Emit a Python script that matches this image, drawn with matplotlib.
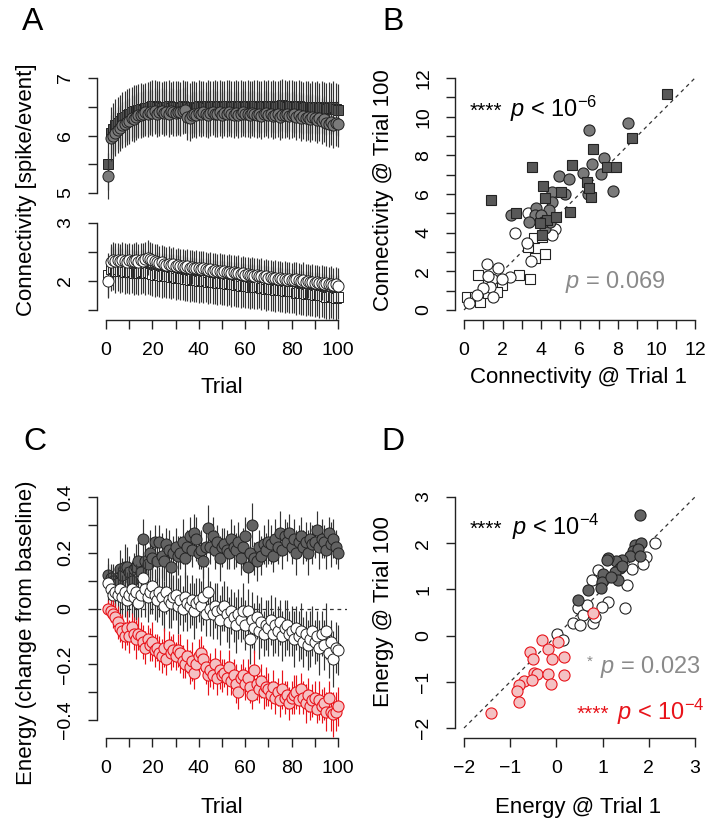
import numpy as np
import matplotlib
matplotlib.use("Agg")
import matplotlib.pyplot as plt

plt.rcParams['font.family'] = ['Liberation Sans', 'DejaVu Sans']
plt.rcParams['mathtext.fontset'] = 'custom'
plt.rcParams['mathtext.rm'] = 'Liberation Sans'
plt.rcParams['mathtext.it'] = 'Liberation Sans:italic'

W, H = 708, 822

# ---------------- DATA ----------------
trials = list(range(1, 101))

# Panel A, upper block (spike/event)
connA_top_circ = [5.30, 5.95, 6.00, 6.05, 6.10, 6.13, 6.18, 6.20, 6.24, 6.26,
                  6.30, 6.28, 6.33, 6.36, 6.35, 6.38, 6.40, 6.37, 6.41, 6.39,
                  6.42, 6.38, 6.40, 6.43, 6.39, 6.41, 6.38, 6.42, 6.40, 6.39,
                  6.41, 6.40, 6.43, 6.45, 6.33, 6.31, 6.35, 6.38, 6.36, 6.39,
                  6.37, 6.40, 6.38, 6.36, 6.39, 6.41, 6.37, 6.38, 6.40, 6.36,
                  6.39, 6.37, 6.40, 6.38, 6.35, 6.39, 6.36, 6.38, 6.40, 6.37,
                  6.38, 6.35, 6.39, 6.37, 6.36, 6.38, 6.34, 6.37, 6.39, 6.35,
                  6.37, 6.34, 6.36, 6.38, 6.33, 6.36, 6.35, 6.37, 6.34, 6.36,
                  6.38, 6.33, 6.35, 6.30, 6.34, 6.31, 6.33, 6.29, 6.32, 6.30,
                  6.27, 6.31, 6.25, 6.28, 6.22, 6.20, 6.23, 6.19, 6.21, 6.20]
connA_top_sq = [5.50, 6.05, 6.12, 6.18, 6.22, 6.26, 6.30, 6.33, 6.36, 6.38,
                6.40, 6.42, 6.43, 6.45, 6.46, 6.44, 6.47, 6.48, 6.50, 6.52,
                6.51, 6.49, 6.50, 6.48, 6.50, 6.49, 6.51, 6.48, 6.50, 6.49,
                6.50, 6.48, 6.51, 6.50, 6.49, 6.47, 6.50, 6.49, 6.48, 6.51,
                6.49, 6.50, 6.48, 6.51, 6.50, 6.49, 6.52, 6.50, 6.51, 6.49,
                6.50, 6.52, 6.51, 6.49, 6.50, 6.52, 6.50, 6.51, 6.49, 6.50,
                6.51, 6.50, 6.49, 6.52, 6.51, 6.50, 6.49, 6.51, 6.50, 6.52,
                6.50, 6.51, 6.49, 6.50, 6.52, 6.53, 6.51, 6.50, 6.52, 6.51,
                6.50, 6.49, 6.51, 6.50, 6.48, 6.50, 6.49, 6.47, 6.49, 6.48,
                6.50, 6.47, 6.49, 6.48, 6.46, 6.48, 6.47, 6.49, 6.46, 6.45]
# Panel A, lower block
connA_bot_circ = [2.00, 2.33, 2.37, 2.35, 2.36, 2.34, 2.37, 2.35, 2.33, 2.36,
                  2.34, 2.35, 2.37, 2.33, 2.36, 2.35, 2.38, 2.40, 2.38, 2.36,
                  2.34, 2.33, 2.31, 2.32, 2.30, 2.28, 2.30, 2.27, 2.29, 2.26,
                  2.27, 2.25, 2.26, 2.24, 2.25, 2.23, 2.24, 2.22, 2.23, 2.22,
                  2.21, 2.22, 2.20, 2.19, 2.20, 2.18, 2.19, 2.17, 2.18, 2.16,
                  2.17, 2.15, 2.16, 2.14, 2.15, 2.13, 2.14, 2.12, 2.13, 2.11,
                  2.12, 2.10, 2.11, 2.09, 2.10, 2.08, 2.09, 2.07, 2.08, 2.06,
                  2.07, 2.05, 2.06, 2.04, 2.05, 2.03, 2.04, 2.02, 2.03, 2.01,
                  2.02, 2.03, 2.01, 2.00, 2.02, 1.99, 2.00, 1.98, 1.99, 1.97,
                  1.98, 1.96, 1.97, 1.95, 1.96, 1.94, 1.95, 1.93, 1.94, 1.92]
connA_bot_sq = [2.10, 2.20, 2.22, 2.18, 2.20, 2.17, 2.19, 2.16, 2.18, 2.15,
                2.17, 2.14, 2.16, 2.13, 2.15, 2.17, 2.14, 2.16, 2.13, 2.12,
                2.11, 2.12, 2.10, 2.09, 2.11, 2.08, 2.09, 2.07, 2.08, 2.06,
                2.07, 2.05, 2.06, 2.04, 2.03, 2.01, 2.03, 2.02, 2.01, 2.00,
                2.02, 2.00, 2.01, 1.99, 2.00, 1.98, 1.99, 1.97, 1.98, 1.96,
                1.97, 1.95, 1.96, 1.94, 1.95, 1.93, 1.94, 1.92, 1.93, 1.91,
                1.92, 1.90, 1.91, 1.90, 1.89, 1.91, 1.88, 1.89, 1.87, 1.88,
                1.86, 1.87, 1.85, 1.86, 1.84, 1.85, 1.83, 1.84, 1.82, 1.83,
                1.82, 1.80, 1.81, 1.79, 1.80, 1.78, 1.79, 1.77, 1.78, 1.76,
                1.77, 1.75, 1.76, 1.74, 1.73, 1.72, 1.74, 1.73, 1.71, 1.72]
errA_top_circ = 0.40
errA_top_sq = 0.45
errA_bot_circ = 0.30
errA_bot_sq = 0.38

# Panel B: connectivity trial 1 vs trial 100
B_sq_dark_x = [10.53, 8.71, 6.72, 3.52, 5.59, 7.41, 7.88, 1.40, 4.09, 4.21, 5.04, 5.51,
               2.70, 4.30, 4.78, 4.07, 6.60, 6.37, 3.95, 6.47]
B_sq_dark_y = [11.16, 8.88, 8.33, 7.41, 7.50, 7.41, 7.41, 5.67, 6.41, 5.78, 6.12, 5.09,
               5.04, 4.66, 4.83, 3.88, 5.86, 6.64, 4.50, 6.30]
B_circ_gray_x = [8.50, 6.49, 7.27, 6.63, 6.20, 7.10, 4.94, 5.45, 7.76, 6.46, 5.25, 4.55,
                 4.59, 4.43, 3.74, 2.44, 3.69, 3.38, 4.00, 4.21, 4.48, 4.10]
B_circ_gray_y = [9.69, 9.31, 7.88, 7.54, 7.07, 7.02, 6.95, 6.78, 6.17, 5.98, 6.00, 6.09,
                 5.60, 5.17, 5.26, 4.91, 4.91, 4.57, 4.91, 4.23, 4.57, 4.57]
B_circ_white_x = [1.18, 1.78, 2.65, 3.26, 3.48, 4.73, 4.55, 2.39, 1.44, 1.96, 1.35, 1.00,
                  1.52, 0.67, 0.26, 1.27, 3.31]
B_circ_white_y = [2.36, 2.19, 3.97, 3.45, 2.53, 4.19, 3.88, 1.72, 1.62, 1.58, 1.21, 1.12,
                  0.69, 0.78, 0.35, 1.78, 5.00]
B_sq_white_x = [4.21, 3.69, 3.43, 2.87, 0.74, 1.27, 1.99, 0.14, 0.57, 0.83, 3.65, 3.31,
                4.55, 4.07, 1.70, 1.27]
B_sq_white_y = [2.88, 2.71, 1.60, 1.81, 1.81, 1.47, 1.30, 0.69, 0.69, 0.43, 3.74, 3.28,
                4.02, 3.76, 0.95, 0.86]

# Panel C: energy change from baseline
energy_gray = [0.12, 0.11, 0.10, 0.08, 0.09, 0.14, 0.12, 0.15, 0.15, 0.13,
               0.10, 0.14, 0.15, 0.17, 0.13, 0.25, 0.17, 0.16, 0.20, 0.18,
               0.24, 0.17, 0.24, 0.19, 0.17, 0.23, 0.21, 0.15, 0.20, 0.22,
               0.19, 0.20, 0.24, 0.18, 0.22, 0.26, 0.21, 0.27, 0.25, 0.20,
               0.21, 0.17, 0.22, 0.29, 0.22, 0.26, 0.21, 0.24, 0.18, 0.22,
               0.23, 0.21, 0.20, 0.25, 0.22, 0.21, 0.24, 0.18, 0.22, 0.26,
               0.15, 0.20, 0.30, 0.18, 0.17, 0.22, 0.19, 0.23, 0.21, 0.24,
               0.23, 0.19, 0.25, 0.22, 0.27, 0.21, 0.26, 0.24, 0.27, 0.22,
               0.25, 0.20, 0.24, 0.26, 0.22, 0.24, 0.20, 0.25, 0.23, 0.24,
               0.28, 0.22, 0.25, 0.24, 0.21, 0.27, 0.23, 0.25, 0.22, 0.20]
energy_white = [0.09, 0.07, 0.05, 0.06, 0.05, 0.07, 0.04, 0.06, 0.03, 0.05,
                0.07, 0.04, 0.06, 0.02, 0.05, 0.11, 0.07, 0.04, 0.06, 0.08,
                0.05, 0.03, 0.06, 0.04, 0.01, 0.06, 0.03, 0.02, 0.04, 0.05,
                0.01, 0.03, 0.00, 0.04, 0.02, 0.01, 0.03, -0.01, 0.02, 0.03,
                0.01, 0.04, -0.02, 0.06, 0.00, -0.02, 0.01, -0.01, -0.04, 0.00,
                0.01, -0.02, -0.05, -0.01, -0.03, -0.06, -0.02, -0.04, -0.01, -0.06,
                -0.01, -0.11, -0.04, -0.07, -0.03, -0.08, -0.05, -0.09, -0.06, -0.07,
                -0.04, -0.09, -0.06, -0.08, -0.05, -0.10, -0.07, -0.06, -0.09, -0.08,
                -0.11, -0.07, -0.10, -0.08, -0.12, -0.09, -0.13, -0.11, -0.08, -0.12,
                -0.10, -0.14, -0.09, -0.13, -0.08, -0.16, -0.12, -0.18, -0.14, -0.15]
energy_red = [0.00, -0.01, -0.02, -0.03, -0.05, -0.07, -0.08, -0.10, -0.07, -0.10,
              -0.065, -0.09, -0.11, -0.09, -0.10, -0.12, -0.14, -0.11, -0.13, -0.12,
              -0.15, -0.14, -0.16, -0.17, -0.14, -0.18, -0.13, -0.16, -0.15, -0.17,
              -0.15, -0.16, -0.19, -0.20, -0.17, -0.21, -0.19, -0.23, -0.20, -0.17,
              -0.16, -0.18, -0.21, -0.24, -0.22, -0.24, -0.20, -0.25, -0.22, -0.24,
              -0.23, -0.25, -0.21, -0.26, -0.24, -0.27, -0.30, -0.25, -0.24, -0.27,
              -0.25, -0.28, -0.31, -0.22, -0.27, -0.29, -0.26, -0.30, -0.28, -0.29,
              -0.31, -0.28, -0.32, -0.30, -0.33, -0.29, -0.32, -0.31, -0.34, -0.32,
              -0.31, -0.30, -0.33, -0.29, -0.32, -0.34, -0.31, -0.35, -0.33, -0.32,
              -0.36, -0.33, -0.35, -0.34, -0.37, -0.32, -0.37, -0.38, -0.37, -0.35]
err_gray = [0.06, 0.05, 0.06, 0.07, 0.06, 0.07, 0.06, 0.08, 0.07, 0.06,
            0.07, 0.06, 0.08, 0.07, 0.06, 0.07, 0.07, 0.06, 0.08, 0.07,
            0.06, 0.07, 0.06, 0.08, 0.07, 0.06, 0.07, 0.08, 0.06, 0.07,
            0.07, 0.06, 0.08, 0.07, 0.06, 0.07, 0.06, 0.07, 0.08, 0.06,
            0.07, 0.06, 0.07, 0.08, 0.06, 0.07, 0.07, 0.06, 0.08, 0.07,
            0.06, 0.07, 0.06, 0.07, 0.08, 0.06, 0.07, 0.06, 0.07, 0.07,
            0.06, 0.07, 0.08, 0.06, 0.07, 0.06, 0.07, 0.07, 0.06, 0.08,
            0.07, 0.06, 0.07, 0.06, 0.08, 0.07, 0.06, 0.07, 0.07, 0.06,
            0.07, 0.08, 0.06, 0.07, 0.06, 0.07, 0.08, 0.06, 0.07, 0.06,
            0.07, 0.08, 0.07, 0.06, 0.07, 0.06, 0.08, 0.07, 0.06, 0.06]
err_white = [0.07, 0.08, 0.09, 0.08, 0.10, 0.09, 0.08, 0.09, 0.10, 0.08,
             0.09, 0.08, 0.10, 0.09, 0.08, 0.09, 0.10, 0.09, 0.08, 0.10,
             0.09, 0.08, 0.09, 0.10, 0.09, 0.08, 0.10, 0.09, 0.08, 0.09,
             0.10, 0.09, 0.08, 0.09, 0.10, 0.08, 0.09, 0.10, 0.09, 0.08,
             0.09, 0.10, 0.08, 0.09, 0.10, 0.09, 0.08, 0.10, 0.09, 0.08,
             0.09, 0.10, 0.09, 0.08, 0.09, 0.10, 0.09, 0.08, 0.10, 0.09,
             0.08, 0.09, 0.10, 0.09, 0.08, 0.10, 0.09, 0.08, 0.09, 0.10,
             0.09, 0.08, 0.10, 0.09, 0.08, 0.09, 0.10, 0.09, 0.08, 0.09,
             0.10, 0.08, 0.09, 0.10, 0.09, 0.08, 0.09, 0.10, 0.09, 0.08,
             0.09, 0.10, 0.08, 0.09, 0.10, 0.09, 0.08, 0.10, 0.09, 0.09]
err_red = [0.03, 0.04, 0.05, 0.05, 0.06, 0.05, 0.06, 0.05, 0.06, 0.06,
           0.05, 0.06, 0.07, 0.06, 0.05, 0.06, 0.06, 0.05, 0.06, 0.07,
           0.06, 0.05, 0.06, 0.06, 0.07, 0.06, 0.05, 0.06, 0.06, 0.05,
           0.06, 0.07, 0.06, 0.05, 0.06, 0.06, 0.07, 0.06, 0.05, 0.06,
           0.06, 0.05, 0.06, 0.07, 0.06, 0.05, 0.06, 0.06, 0.07, 0.06,
           0.05, 0.06, 0.06, 0.05, 0.06, 0.07, 0.06, 0.05, 0.06, 0.06,
           0.07, 0.06, 0.05, 0.07, 0.06, 0.05, 0.06, 0.06, 0.07, 0.06,
           0.05, 0.06, 0.06, 0.05, 0.06, 0.07, 0.06, 0.05, 0.06, 0.06,
           0.07, 0.06, 0.05, 0.06, 0.06, 0.07, 0.06, 0.05, 0.06, 0.06,
           0.05, 0.07, 0.06, 0.06, 0.07, 0.06, 0.07, 0.08, 0.07, 0.07]

# Panel D: energy trial 1 vs trial 100
D_gray_x = [1.82, 1.70, 1.84, 1.66, 1.77, 1.59, 1.81, 1.41, 1.30, 1.12, 1.38, 1.27,
            1.41, 1.01, 0.98, 0.96, 1.09, 0.69, 0.47, 1.34, 1.19]
D_gray_y = [2.60, 1.96, 2.00, 1.83, 1.87, 1.72, 1.72, 1.64, 1.61, 1.68, 1.46, 1.38,
            1.50, 1.34, 1.16, 1.02, 1.64, 0.98, 0.77, 1.20, 1.27]
D_white_x = [2.13, 1.95, 1.88, 1.63, 1.52, 0.91, 0.76, 1.49, 1.12, 0.98, 0.47, 0.58,
             0.37, 0.51, 0.80, 0.02, 0.15, 0.66, 0.84]
D_white_y = [2.00, 1.71, 1.56, 1.45, 1.09, 1.42, 1.20, 0.59, 0.73, 0.62, 0.59, 0.45,
             0.27, 0.24, 0.27, 0.03, -0.09, 0.66, 0.41]
D_red_x = [0.80, -1.42, -0.32, 0.04, -0.57, -0.18, -0.50, -0.10, 0.17, -0.48, -0.43,
           -0.19, 0.17, -0.12, -0.70, -0.82, -0.86, -0.82, -0.53]
D_red_y = [0.50, -1.67, -0.10, -0.13, -0.35, -0.28, -0.51, -0.51, -0.46, -0.80, -0.83,
           -0.83, -0.86, -1.05, -0.99, -1.07, -1.20, -1.43, -0.97]

# ---------------- STYLE ----------------
c_gray = '#7a7a7a'
c_dark = '#585858'
c_gray_C = '#626262'
c_red = '#e8131a'
c_pink = '#f4c1c3'
c_err = '#333333'
TICK_FS = 14
LAB_FS = 16
TICKLEN = 6.5
MS = 8.0
ELW = 0.85

fig = plt.figure(figsize=(W / 100, H / 100), dpi=100)


def px_axes(l, t, r, b, xref, yref):
    (xv1, xp1), (xv2, xp2) = xref
    (yv1, yp1), (yv2, yp2) = yref
    sx = (xv2 - xv1) / (xp2 - xp1)
    sy = (yv2 - yv1) / (yp2 - yp1)
    ax = fig.add_axes([l / W, 1 - b / H, (r - l) / W, (b - t) / H])
    ax.set_xlim(xv1 + (l - xp1) * sx, xv1 + (r - xp1) * sx)
    ax.set_ylim(yv1 + (b - yp1) * sy, yv1 + (t - yp1) * sy)
    ax.patch.set_alpha(0)
    for s in ('top', 'right'):
        ax.spines[s].set_visible(False)
    for s in ('left', 'bottom'):
        ax.spines[s].set_linewidth(1.0)
        ax.spines[s].set_color('#222222')
    ax.tick_params(direction='out', length=TICKLEN, width=1.0, color='#222222',
                   labelsize=TICK_FS)
    ax.tick_params(axis='x', pad=9)
    ax.tick_params(axis='y', pad=10)
    return ax


def set_yticks(ax, ticks, labels):
    ax.set_yticks(ticks)
    ax.set_yticklabels(labels, rotation=90, va='center')
    ax.spines['left'].set_bounds(ticks[0], ticks[-1])


def set_xticks(ax, ticks, labels):
    ax.set_xticks(ticks)
    ax.set_xticklabels(labels)
    ax.spines['bottom'].set_bounds(ticks[0], ticks[-1])


def ftext(x, y, s, **kw):
    fig.text(x / W, 1 - y / H, s, **kw)


xrefA = ((0, 106), (100, 338))
xtA = list(range(0, 101, 10))
xlA = [str(v) if v % 20 == 0 else '' for v in xtA]

# ---------------- PANEL A ----------------
axAt = px_axes(97, 62, 347, 200, xrefA, ((7, 78), (5, 193)))
axAb = px_axes(97, 210, 347, 320, xrefA, ((3, 223), (1.5, 310)))
axAt.spines['bottom'].set_visible(False)
axAt.tick_params(axis='x', bottom=False, labelbottom=False)
set_yticks(axAt, [5, 5.5, 6, 6.5, 7], ['5', '', '6', '', '7'])
set_yticks(axAb, [1.5, 2, 2.5, 3], ['', '2', '', '3'])
set_xticks(axAb, xtA, xlA)

axAt.errorbar(trials, connA_top_sq, yerr=errA_top_sq, fmt='none', ecolor=c_err,
              elinewidth=ELW, capsize=0, zorder=2)
axAt.plot(trials, connA_top_sq, 's', ms=MS - 1, mfc=c_dark, mec='#222222', mew=0.7, zorder=3)
axAt.errorbar(trials, connA_top_circ, yerr=errA_top_circ, fmt='none', ecolor=c_err,
              elinewidth=ELW, capsize=0, zorder=4)
axAt.plot(trials, connA_top_circ, 'o', ms=MS, mfc=c_gray, mec='#222222', mew=0.7, zorder=5)

axAb.errorbar(trials, connA_bot_sq, yerr=errA_bot_sq, fmt='none', ecolor=c_err,
              elinewidth=ELW, capsize=0, zorder=2)
axAb.plot(trials, connA_bot_sq, 's', ms=MS - 1, mfc='white', mec='#222222', mew=0.7, zorder=3)
axAb.errorbar(trials, connA_bot_circ, yerr=errA_bot_circ, fmt='none', ecolor=c_err,
              elinewidth=ELW, capsize=0, zorder=4)
axAb.plot(trials, connA_bot_circ, 'o', ms=MS, mfc='white', mec='#222222', mew=0.7, zorder=5)

# ---------------- PANEL B ----------------
axB = px_axes(455, 62, 704, 320, ((0, 464), (12, 695)), ((12, 78), (0, 310)))
tB = list(range(0, 13))
lB = [str(v) if v % 2 == 0 else '' for v in tB]
set_yticks(axB, tB, lB)
set_xticks(axB, tB, lB)
axB.plot([0, 12], [0, 12], ls=(0, (3, 3)), color='#333333', lw=0.9, zorder=1)
axB.plot(B_sq_white_x, B_sq_white_y, 's', ms=MS - 0.5, mfc='white', mec='#222222', mew=0.8, zorder=3)
axB.plot(B_circ_white_x, B_circ_white_y, 'o', ms=MS, mfc='white', mec='#222222', mew=0.8, zorder=3)
axB.plot(B_circ_gray_x, B_circ_gray_y, 'o', ms=MS, mfc=c_gray, mec='#222222', mew=0.8, zorder=4)
axB.plot(B_sq_dark_x, B_sq_dark_y, 's', ms=MS - 0.5, mfc=c_dark, mec='#222222', mew=0.8, zorder=4)

# ---------------- PANEL C ----------------
axC = px_axes(97, 480, 347, 738, xrefA, ((0.4, 497), (-0.4, 720)))
tC = [-0.4, -0.3, -0.2, -0.1, 0, 0.1, 0.2, 0.3, 0.4]
lC = ['\u22120.4', '', '\u22120.2', '', '0', '', '0.2', '', '0.4']
set_yticks(axC, tC, lC)
set_xticks(axC, xtA, xlA)
axC.axhline(0, ls=(0, (3, 3)), color='#333333', lw=0.9, zorder=1)
axC.errorbar(trials, energy_gray, yerr=err_gray, fmt='none', ecolor=c_err,
             elinewidth=ELW, capsize=0, zorder=2)
axC.plot(trials, energy_gray, 'o', ms=MS, mfc=c_gray_C, mec='#222222', mew=0.7, zorder=3)
axC.errorbar(trials, energy_white, yerr=err_white, fmt='none', ecolor=c_err,
             elinewidth=ELW, capsize=0, zorder=4)
axC.plot(trials, energy_white, 'o', ms=MS, mfc='white', mec='#222222', mew=0.7, zorder=5)
axC.errorbar(trials, energy_red, yerr=err_red, fmt='none', ecolor=c_red,
             elinewidth=ELW, capsize=0, zorder=6)
axC.plot(trials, energy_red, 'o', ms=MS, mfc=c_pink, mec=c_red, mew=0.8, zorder=7)

# ---------------- PANEL D ----------------
axD = px_axes(455, 480, 704, 738, ((-2, 464), (3, 695)), ((3, 497), (-2, 728)))
tD = [-2, -1, 0, 1, 2, 3]
lD = ['\u22122', '\u22121', '0', '1', '2', '3']
set_yticks(axD, tD, lD)
set_xticks(axD, tD, lD)
axD.plot([-2, 3], [-2, 3], ls=(0, (3, 3)), color='#333333', lw=0.9, zorder=1)
axD.plot(D_white_x, D_white_y, 'o', ms=MS, mfc='white', mec='#222222', mew=0.8, zorder=3)
axD.plot(D_gray_x, D_gray_y, 'o', ms=MS, mfc=c_gray_C, mec='#222222', mew=0.8, zorder=4)
axD.plot(D_red_x, D_red_y, 'o', ms=MS, mfc=c_pink, mec=c_red, mew=0.8, zorder=5)

# ---------------- TEXT ----------------
for lab, x, y in (('A', 33, 22), ('B', 393, 22), ('C', 35, 442), ('D', 393, 442)):
    ftext(x, y, lab, fontsize=23, ha='center', va='center')

ftext(27, 190, 'Connectivity [spike/event]', fontsize=LAB_FS, rotation=90, ha='center', va='center')
ftext(222, 387, 'Trial', fontsize=LAB_FS, ha='center', va='center')
ftext(383, 190, 'Connectivity @ Trial 100', fontsize=LAB_FS, rotation=90, ha='center', va='center')
ftext(578, 377, 'Connectivity @ Trial 1', fontsize=LAB_FS, ha='center', va='center')
ftext(27, 633, 'Energy (change from baseline)', fontsize=LAB_FS, rotation=90, ha='center', va='center')
ftext(222, 807, 'Trial', fontsize=LAB_FS, ha='center', va='center')
ftext(383, 612, 'Energy @ Trial 100', fontsize=LAB_FS, rotation=90, ha='center', va='center')
ftext(578, 807, 'Energy @ Trial 1', fontsize=LAB_FS, ha='center', va='center')

ANN_FS = 17
STAR_FS = 15
ftext(470, 117, '****', fontsize=STAR_FS, ha='left', va='baseline')
ftext(510, 117, r'$p$ < $10^{-6}$', fontsize=ANN_FS, ha='left', va='baseline')
ftext(565, 288, r'$p$ = 0.069', fontsize=ANN_FS, ha='left', va='baseline', color='#8a8a8a')

ftext(470, 535, '****', fontsize=STAR_FS, ha='left', va='baseline')
ftext(512, 535, r'$p$ < $10^{-4}$', fontsize=ANN_FS, ha='left', va='baseline')
ftext(587, 666, '*', fontsize=11, ha='left', va='baseline', color='#8a8a8a')
ftext(600, 673, r'$p$ = 0.023', fontsize=ANN_FS, ha='left', va='baseline', color='#8a8a8a')
ftext(577, 720, '****', fontsize=STAR_FS, ha='left', va='baseline', color=c_red)
ftext(617, 720, r'$p$ < $10^{-4}$', fontsize=ANN_FS, ha='left', va='baseline', color=c_red)

fig.savefig('out.png', dpi=100)
